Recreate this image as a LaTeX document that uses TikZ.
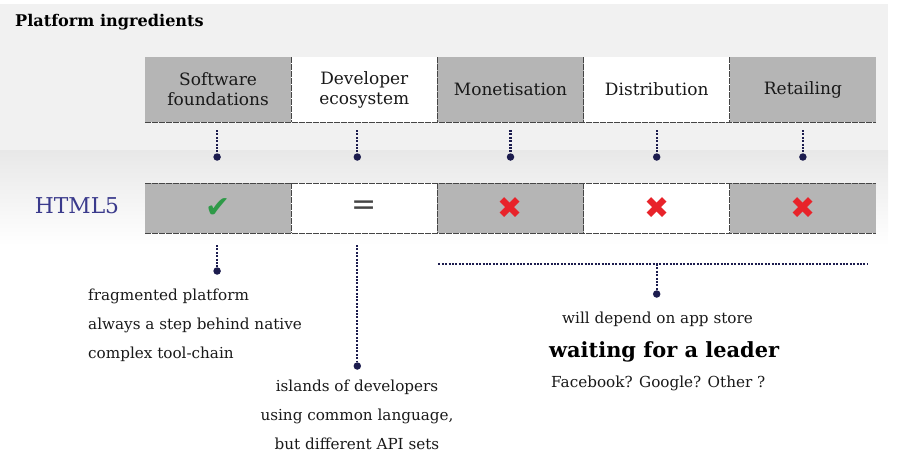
\documentclass[tikz,border=0pt]{standalone}
\usepackage{fontspec}
\setmainfont{DejaVu Serif}
\newfontfamily\symbfont{DejaVu Sans}
\usetikzlibrary{positioning,calc}

\definecolor{cellgray}{HTML}{B5B5B5}
\definecolor{rulegray}{HTML}{454545}
\definecolor{navy}{HTML}{1C1C4E}
\definecolor{htmlblue}{HTML}{3A3A8C}
\definecolor{tickgreen}{HTML}{2E9A48}
\definecolor{crossred}{HTML}{E8232A}
\definecolor{bgtop}{HTML}{F1F1F1}
\definecolor{bgband}{HTML}{E8E8E8}

\tikzset{
  cell/.style={minimum width=146.2pt, minimum height=65pt, inner sep=0pt, outer sep=0pt,
    align=center, font=\fontsize{17}{20}\selectfont, text=black!90},
  rowcell/.style={minimum width=146.2pt, minimum height=50pt, inner sep=0pt, outer sep=0pt,
    font=\symbfont\fontsize{30}{30}\selectfont},
  sep/.style={draw=rulegray, line width=0.9pt, dash pattern=on 6pt off 1pt},
  link/.style={draw=navy, line width=2.2pt, dash pattern=on 2pt off 1.4pt},
  dot/.style={circle, fill=navy, inner sep=0pt, minimum size=7.5pt},
  note/.style={font=\fontsize{15.2}{29}\selectfont, text=black!90, inner sep=0pt},
}

\begin{document}
\begin{tikzpicture}[x=1pt,y=1pt]
\useasboundingbox (0,0) rectangle (900,-461);

% background bands
\fill[bgtop] (0,-4) rectangle (888,-150);
\shade[top color=bgband, bottom color=white] (0,-150) rectangle (888,-246);

\node[font=\bfseries\fontsize{16.1}{16}\selectfont, anchor=west, inner sep=0pt] (title) at (15,-22) {Platform ingredients};

% ingredients
\node[cell, fill=cellgray] (sw) at (218.1,-89.5) {Software\\foundations};
\node[cell, fill=white, right=0pt of sw] (dev) {Developer\\ecosystem};
\node[cell, fill=cellgray, right=0pt of dev] (mon) {Monetisation};
\node[cell, fill=white, right=0pt of mon] (dist) {Distribution};
\node[cell, fill=cellgray, right=0pt of dist] (ret) {Retailing};

\draw[sep] (sw.south west) -- (ret.south east);
\foreach \c in {sw,dev,mon,dist}
  \draw[sep] (\c.north east) -- (\c.south east);

% HTML5 row
\node[font=\fontsize{21.8}{22}\selectfont, text=htmlblue, inner sep=0pt] (html) at (77,-206) {HTML5};

\node[rowcell, fill=cellgray] (sw5) at (218.1,-208) {\textcolor{tickgreen}{✔}};
\node[rowcell, fill=white, right=0pt of sw5] (dev5) {\textcolor{rulegray}{=}};
\node[rowcell, fill=cellgray, right=0pt of dev5] (mon5) {\textcolor{crossred}{✖}};
\node[rowcell, fill=white, right=0pt of mon5] (dist5) {\textcolor{crossred}{✖}};
\node[rowcell, fill=cellgray, right=0pt of dist5] (ret5) {\textcolor{crossred}{✖}};

\draw[sep] (sw5.north west) -- (ret5.north east);
\draw[sep] (sw5.south west) -- (ret5.south east);
\foreach \c in {sw5,dev5,mon5,dist5}
  \draw[sep] (\c.north east) -- (\c.south east);

% drops under the headings
\foreach \c/\dx in {sw/-1,dev/-7,mon/0,dist/0,ret/0} {
  \node[dot] (\c-d) at ([xshift=\dx pt, yshift=-35pt]\c.south) {};
  \draw[link] ([xshift=\dx pt, yshift=-8pt]\c.south) -- (\c-d);
}

% comments under the row
\node[dot] (sw5-d) at ([xshift=-1pt, yshift=-38pt]sw5.south) {};
\draw[link] ([xshift=-1pt, yshift=-12pt]sw5.south) -- (sw5-d);
\node[dot] (dev5-d) at ([xshift=-7pt, yshift=-133pt]dev5.south) {};
\draw[link] ([xshift=-7pt, yshift=-12pt]dev5.south) -- (dev5-d);

\coordinate (bar-l) at ([xshift=1pt, yshift=-31pt]mon5.south west);
\coordinate (bar-r) at ([xshift=-9pt, yshift=-31pt]ret5.south east);
\draw[link, line width=1.8pt] (bar-l) -- (bar-r);
\coordinate (bar-m) at (dist5.south |- bar-l);
\node[dot] (dist5-d) at ([yshift=-30pt]bar-m) {};
\draw[link] (bar-m) -- (dist5-d);

\node[note, anchor=west, align=left] (frag) at (88,-325)
  {fragmented platform\\always a step behind native\\complex tool-chain};
\node[note, align=center] (islands) at (357,-415)
  {islands of developers\\using common language,\\but different API sets};

\node[note, anchor=west] (store) at (562,-319) {will depend on app store};
\node[font=\bfseries\fontsize{20.9}{21}\selectfont, anchor=west, inner sep=0pt] (leader) at (549,-352) {waiting for a leader};
\node[note, anchor=west] (others) at (551,-383) {Facebook? Google? Other ?};

\end{tikzpicture}
\end{document}
